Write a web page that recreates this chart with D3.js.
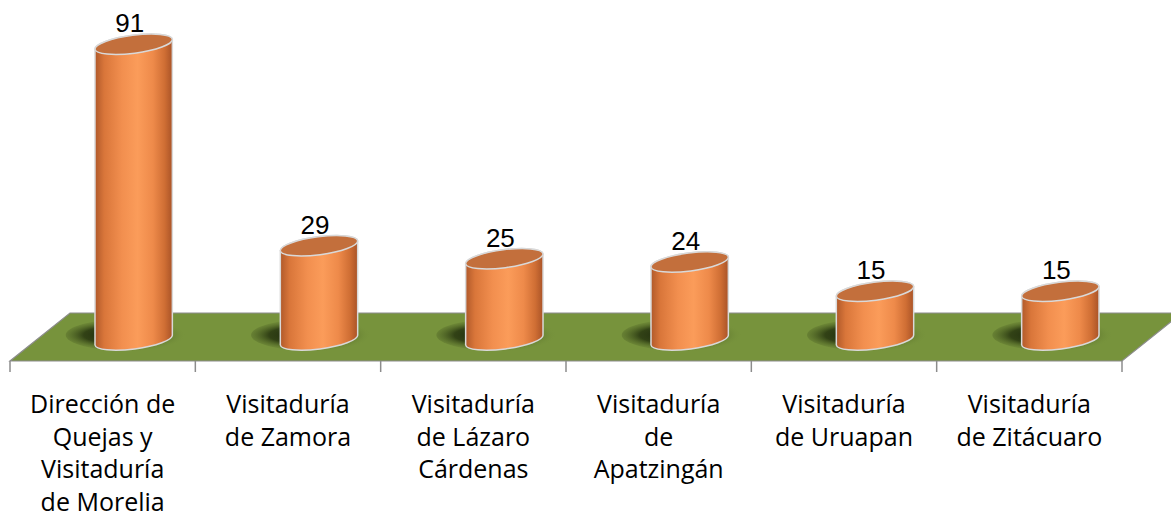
<!DOCTYPE html>
<html>
<head>
<meta charset="utf-8">
<script src="https://cdn.jsdelivr.net/npm/d3@7"></script>
<style>
  html, body { margin: 0; padding: 0; background: #fff; }
  svg { display: block; }
</style>
</head>
<body>
<svg></svg>
<script>
//	chart data
var categories = [
    "Dirección de Quejas y Visitaduría de Morelia",
    "Visitaduría de Zamora",
    "Visitaduría de Lázaro Cárdenas",
    "Visitaduría de Apatzingán",
    "Visitaduría de Uruapan",
    "Visitaduría de Zitácuaro"
];
var values = [91, 29, 25, 24, 15, 15];
var labelLines = [
    ["Dirección de", "Quejas y", "Visitaduría", "de Morelia"],
    ["Visitaduría", "de Zamora"],
    ["Visitaduría", "de Lázaro", "Cárdenas"],
    ["Visitaduría", "de", "Apatzingán"],
    ["Visitaduría", "de Uruapan"],
    ["Visitaduría", "de Zitácuaro"]
];

var width = 1171, height = 527;
var svg = d3.select("svg").attr("width", width).attr("height", height);

//	floor geometry (front edge + depth offset)
var floorY = 361, depthX = 60, depthY = -48;
//	bars sit at mid depth
var barDX = 31, barBaseY = 340;
var rx = 39, ry = 9, tilt = -7.4;

var x = d3.scaleBand().domain(categories).range([10, 1122]).padding(0);
var y = d3.scaleLinear().domain([0, 100]).range([barBaseY, barBaseY - 325]);

var defs = svg.append("defs");

var bodyGrad = defs.append("linearGradient").attr("id", "body")
    .attr("x1", "0%").attr("x2", "100%").attr("y1", "0%").attr("y2", "0%");
[["0%", "#b0592a"], ["12%", "#d9763a"], ["35%", "#f28f4f"], ["55%", "#fb9c5a"],
 ["75%", "#ee8a4a"], ["90%", "#cf6e34"], ["100%", "#a95327"]].forEach(function(s) {
    bodyGrad.append("stop").attr("offset", s[0]).attr("stop-color", s[1]);
});

var shadowGrad = defs.append("radialGradient").attr("id", "shadow")
    .attr("cx", "42%").attr("cy", "50%").attr("r", "55%");
shadowGrad.append("stop").attr("offset", "0%").attr("stop-color", "#17200a").attr("stop-opacity", 1);
shadowGrad.append("stop").attr("offset", "50%").attr("stop-color", "#26340f").attr("stop-opacity", 0.85);
shadowGrad.append("stop").attr("offset", "100%").attr("stop-color", "#77933c").attr("stop-opacity", 0);

//	floor
var x0 = x.range()[0], x1 = x.range()[1];
svg.append("path")
    .attr("d", "M" + x0 + "," + floorY + "L" + x1 + "," + floorY +
        "L" + (x1 + depthX) + "," + (floorY + depthY) +
        "L" + (x0 + depthX) + "," + (floorY + depthY) + "Z")
    .attr("fill", "#77933c")
    .attr("stroke", "#8c8c8c")
    .attr("stroke-width", 1.2);

//	tick marks along the front edge
var tickXs = categories.map(function(c) { return x(c); }).concat([x1]);
svg.append("g").selectAll("line").data(tickXs).enter().append("line")
    .attr("x1", function(d) { return d; })
    .attr("x2", function(d) { return d; })
    .attr("y1", floorY)
    .attr("y2", floorY + 11)
    .attr("stroke", "#8c8c8c")
    .attr("stroke-width", 1.5);

var bars = svg.append("g").selectAll("g").data(values).enter().append("g")
    .attr("transform", function(d, i) {
        return "translate(" + (x(categories[i]) + x.bandwidth() / 2 + barDX) + ",0)";
    });

//	shadows
bars.append("ellipse")
    .attr("cx", -6)
    .attr("cy", barBaseY - 5)
    .attr("rx", 62)
    .attr("ry", 16)
    .attr("fill", "url(#shadow)");

var t = tilt * Math.PI / 180;
var ex = rx * Math.cos(t), ey = rx * Math.sin(t);

//	cylinder bodies
bars.append("path")
    .attr("d", function(d) {
        var top = y(d);
        return "M" + (-ex) + "," + (top - ey) +
            "L" + (-ex) + "," + (barBaseY - ey) +
            "A" + rx + "," + ry + "," + tilt + ",0,0," + ex + "," + (barBaseY + ey) +
            "L" + ex + "," + (top + ey) +
            "A" + rx + "," + ry + "," + tilt + ",0,0," + (-ex) + "," + (top - ey) + "Z";
    })
    .attr("fill", "url(#body)")
    .attr("stroke", "#d9d9d9")
    .attr("stroke-width", 1.5);

//	cylinder tops
bars.append("ellipse")
    .attr("cx", 0)
    .attr("cy", 0)
    .attr("rx", rx)
    .attr("ry", ry)
    .attr("transform", function(d) { return "translate(0," + y(d) + ") rotate(" + tilt + ")"; })
    .attr("fill", "#c36f3c")
    .attr("stroke", "#d9d9d9")
    .attr("stroke-width", 1.5);

//	value labels
bars.append("text")
    .attr("x", -4)
    .attr("y", function(d) { return y(d) - 12; })
    .attr("text-anchor", "middle")
    .style("font-family", "'Liberation Sans', Arial, sans-serif")
    .style("font-size", "26px")
    .attr("fill", "#000")
    .text(function(d) { return d; });

//	category labels
var cat = svg.append("g").selectAll("text").data(categories).enter().append("text")
    .attr("text-anchor", "middle")
    .style("font-family", "'Open Sans', sans-serif")
    .style("font-size", "25px")
    .attr("fill", "#000")
    .attr("transform", function(d) { return "translate(" + (x(d) + x.bandwidth() / 2) + ",0)"; });

cat.selectAll("tspan").data(function(d, i) { return labelLines[i]; }).enter().append("tspan")
    .attr("x", 0)
    .attr("y", function(d, j) { return 413 + j * 32.5; })
    .text(function(d) { return d; });
</script>
</body>
</html>
